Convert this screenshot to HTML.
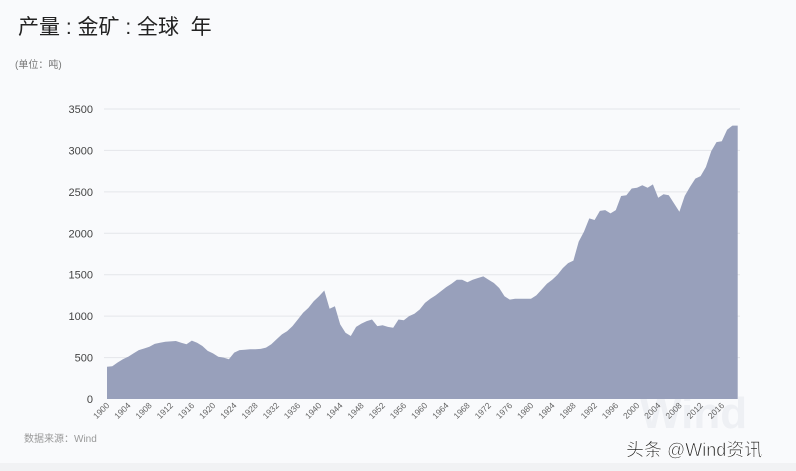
<!DOCTYPE html>
<html><head><meta charset="utf-8"><style>
body{margin:0;width:796px;height:471px;background:#f9fafc;overflow:hidden;font-family:"Liberation Sans","Noto Sans CJK SC",sans-serif}
</style></head><body>
<svg id="s" width="796" height="471" xmlns="http://www.w3.org/2000/svg" style="position:absolute;left:0;top:0">
<rect x="0" y="0" width="796" height="463" fill="#f9fafc"/>
<rect x="0" y="463" width="796" height="8" fill="#f1f2f4"/>
<text x="18" y="34" font-size="21" fill="#222" xml:space="preserve" style="white-space:pre" font-family="Liberation Sans,Noto Sans CJK SC,sans-serif">产量 : 金矿 : 全球  年</text>
<text x="15" y="68" font-size="10" fill="#777" font-family="Liberation Sans,Noto Sans CJK SC,sans-serif">(单位：吨)</text>
<text x="24" y="442" font-size="10" fill="#999" font-family="Liberation Sans,Noto Sans CJK SC,sans-serif">数据来源：Wind</text>
<text x="640" y="428" font-size="44" fill="#eef0f4" font-family="Liberation Sans,sans-serif" font-weight="bold">Wind</text>
<g id="g"></g>
<text x="626" y="456" font-size="18" fill="#222" stroke="#fff" stroke-width="0.6" font-family="Liberation Sans,Noto Sans CJK SC,sans-serif">头条 @Wind资讯</text>
</svg>
<script>
var d=[390,395,440,480,510,550,590,610,630,665,680,690,695,700,680,660,705,680,640,580,550,510,500,480,560,590,595,600,600,605,620,660,720,780,820,880,960,1040,1100,1180,1240,1310,1090,1120,900,800,760,870,910,940,960,880,890,870,860,960,950,1000,1030,1080,1160,1210,1250,1300,1350,1390,1440,1440,1410,1440,1460,1480,1440,1400,1340,1240,1200,1210,1210,1210,1210,1250,1320,1390,1440,1500,1580,1640,1670,1900,2020,2180,2160,2270,2280,2240,2280,2450,2460,2540,2550,2580,2550,2590,2430,2470,2460,2360,2260,2450,2560,2660,2690,2800,2990,3100,3110,3250,3300,3300];
function X(i){return 107+i*5.3}function Y(v){return 399-v*0.08286}
var h='';
for(var v=500;v<=3500;v+=500){h+='<line x1="104" x2="740" y1="'+Y(v)+'" y2="'+Y(v)+'" stroke="#e4e6ea" stroke-width="1"/>';}
for(var v=0;v<=3500;v+=500){h+='<text x="93" y="'+(Y(v)+4)+'" font-size="11" fill="#444" text-anchor="end">'+v+'</text>';}
var p='M'+X(0)+','+Y(0);
for(var i=0;i<d.length;i++)p+=' L'+X(i).toFixed(1)+','+Y(d[i]).toFixed(1);
p+=' L'+X(d.length-1)+','+Y(0)+' Z';
h+='<path d="'+p+'" fill="#98a0bb"/>';
for(var y=1900;y<=2016;y+=4){var x=X(y-1900)+3;h+='<text x="'+x+'" y="406" font-size="8.5" fill="#666" text-anchor="end" transform="rotate(-45 '+x+' 406)">'+y+'</text>';}
document.getElementById('g').innerHTML=h;
</script>
</body></html>
